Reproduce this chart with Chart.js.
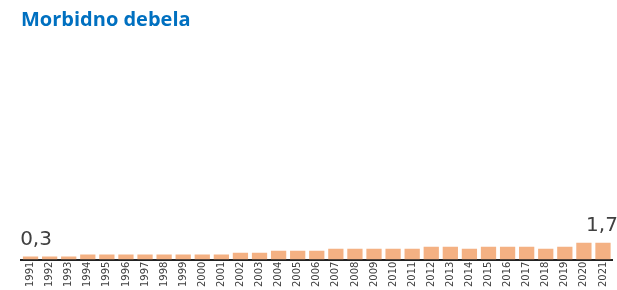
<!DOCTYPE html>
<html>
<head>
<meta charset="utf-8">
<script src="https://cdn.jsdelivr.net/npm/chart.js@4.4.1/dist/chart.umd.min.js"></script>
<style>
    html, body { margin: 0; padding: 0; background: #fff; }
    #wrap { width: 617px; height: 290px; }
</style>
</head>
<body>
<div id="wrap"><canvas id="morbidChart"></canvas></div>
<script>
const years = ['1991', '1992', '1993', '1994', '1995', '1996', '1997', '1998', '1999', '2000',
    '2001', '2002', '2003', '2004', '2005', '2006', '2007', '2008', '2009', '2010',
    '2011', '2012', '2013', '2014', '2015', '2016', '2017', '2018', '2019', '2020', '2021'];
const values = [0.3, 0.3, 0.3, 0.5, 0.5, 0.5, 0.5, 0.5, 0.5, 0.5,
    0.5, 0.7, 0.7, 0.9, 0.9, 0.9, 1.1, 1.1, 1.1, 1.1,
    1.1, 1.3, 1.3, 1.1, 1.3, 1.3, 1.3, 1.1, 1.3, 1.7, 1.7];
const labelledIndexes = [0, values.length - 1]; // only first and last value shown

const barColor = '#F4B183';
const textColor = '#404040';

// подписи значений над первым и последним столбцом
const valueLabels = {
    id: 'valueLabels',
    afterDatasetsDraw(chart) {
        const ctx = chart.ctx;
        const meta = chart.getDatasetMeta(0);
        ctx.save();
        ctx.font = '20px "DejaVu Sans"';
        ctx.fillStyle = textColor;
        ctx.textAlign = 'center';
        ctx.textBaseline = 'alphabetic';
        labelledIndexes.forEach(i => {
            const bar = meta.data[i];
            const text = values[i].toFixed(1).replace('.', ',');
            const shift = i === 0 ? 5.5 : -1;
            ctx.fillText(text, bar.x + shift, bar.y - 12);
        });
        ctx.restore();
    }
};

new Chart(document.getElementById('morbidChart'), {
    type: 'bar',
    data: {
        labels: years,
        datasets: [{
            data: values,
            backgroundColor: barColor,
            borderWidth: 0,
            categoryPercentage: 1,
            barPercentage: 0.8
        }]
    },
    options: {
        responsive: true,
        maintainAspectRatio: false,
        animation: false,
        layout: {
            padding: {left: 21, right: 1, top: 0, bottom: 1}
        },
        plugins: {
            legend: {display: false},
            tooltip: {enabled: false},
            title: {
                display: true,
                text: 'Morbidno debela',
                align: 'start',
                color: '#0070C0',
                font: {family: '"Open Sans"', size: 20, weight: 'bold'},
                padding: {top: 8, bottom: 10}
            }
        },
        scales: {
            x: {
                grid: {display: false, drawTicks: false, tickLength: 0},
                border: {display: true, color: '#222222', width: 2},
                ticks: {
                    color: textColor,
                    font: {family: '"DejaVu Sans"', size: 10},
                    minRotation: 90,
                    maxRotation: 90,
                    autoSkip: false,
                    padding: 2
                }
            },
            y: {
                display: false,
                min: 0,
                max: 22
            }
        }
    },
    plugins: [valueLabels]
});
</script>
</body>
</html>
